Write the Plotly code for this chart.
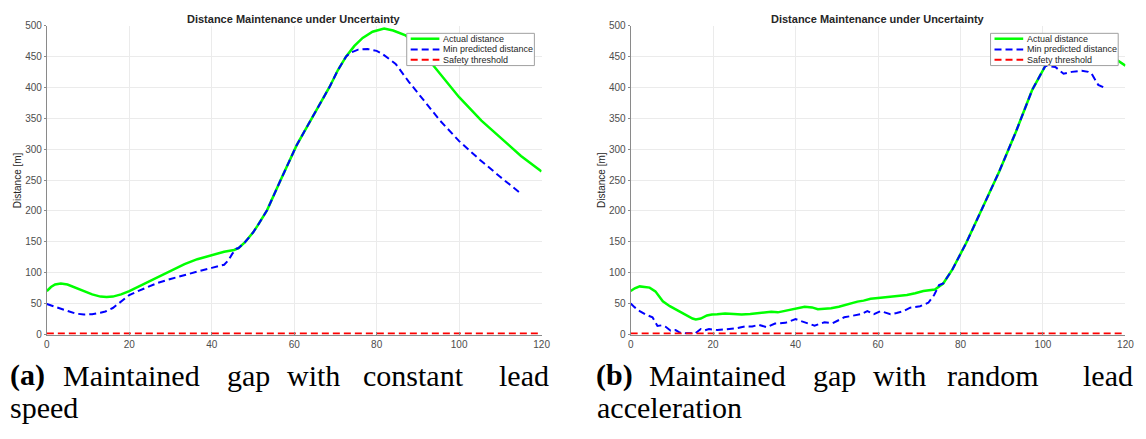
import plotly.graph_objects as go

W, H = 1146, 439

# ---- (a) constant lead speed ----
t_a_actual = [0, 1, 2, 3.4, 5, 7, 9, 11, 13, 14.5, 16, 18, 20, 22, 24, 26.9, 30, 33.4, 36.5, 40,
              43, 45.4, 46.5, 48, 50, 51, 53.4, 56.6, 60.6, 64.6, 68.6, 70.6, 72.6, 74.6, 76.6, 79, 81.8,
              84, 87, 90, 93.8, 97, 100, 105.4, 110, 115, 120]
d_a_actual = [70.5, 77, 81, 82.5, 81, 76, 70, 65, 61.5, 60.8, 61.5, 65, 70.5, 77, 84.5, 94, 104, 114, 122, 129,
              134, 137, 140, 149, 165, 175, 201, 248.5, 306.5, 354, 401, 428, 450, 467, 480, 490, 495,
              492, 484, 466, 435, 408, 384, 346, 318, 289, 264]

t_a_min = [0, 2, 3.5, 5.3, 7, 9, 11, 13, 14.2, 16, 18, 20, 22, 24, 27, 30, 34.2, 37, 40, 43, 44, 45, 46,
           46.5, 48, 50, 51, 53.4, 56.6, 60.6, 64.6, 68.6, 70.6, 72.6, 73.6, 75.5, 77.8, 80, 81.4, 84.6,
           87.8, 91, 95.4, 100, 105, 110, 115]
d_a_min = [49.5, 45, 41, 38, 34, 32.6, 33, 35.5, 37.5, 43, 53, 64, 70, 76, 84, 90, 98.4, 103, 108, 113, 120, 131, 139,
           140, 149, 165, 175, 201, 248.5, 306.5, 354, 401, 428, 450, 456, 461, 462, 459, 454, 438,
           409, 382, 346, 313, 283, 255, 228]

# ---- (b) random lead acceleration ----
t_b_actual = [0, 1, 2.2, 4.6, 6, 7.8, 9.5, 11, 13, 15, 15.8, 17, 18.5, 19.7, 21, 22.9, 25, 26.9, 29, 30.9,
              32.5, 34.1, 35.7, 37.5, 38.9, 40.5, 42.2, 44, 45.4, 47, 48.6, 50.5, 52.6, 55, 56.5, 58.2,
              60.6, 62.5, 64.5, 67, 69, 71, 73.8, 75.8, 78, 81.4, 85.4, 89.4, 93.4, 97.4, 100.6,
              103, 106, 110, 114, 118.2, 120]
d_b_actual = [70.5, 75, 78, 76, 70, 54, 46, 40.5, 33, 26, 24.6, 26, 31, 32.6, 33, 34, 33.5, 32.6, 33.5, 35,
              36.5, 37, 36, 38.5, 40.5, 42, 45, 44, 41, 42, 42.6, 45, 49, 53.4, 55, 58,
              59.5, 61, 62, 64, 67, 70.5, 73, 82.6, 105, 148.5, 206, 264, 327.5, 396, 435,
              450, 457, 456, 450, 443, 435]

t_b_min = [0, 1, 2.2, 3.5, 5.3, 6.5, 7.5, 8.5, 9.7, 10.9, 12, 13.3, 15.7, 17, 18, 19, 21, 23, 25.5, 27.9,
           29.5, 31, 33, 35, 37.5, 40, 42.2, 44.6, 47, 49, 51.8, 54.2, 55.8, 57.4, 59, 60.6, 63,
           64.5, 66.2, 67.8, 70.2, 72.2, 73.6, 74.8, 75.8, 78, 81.4, 85.4, 89.4, 93.4, 97.4, 100.6,
           103, 105, 107, 109.4, 111, 111.8, 112.6, 113.4, 114.7]
d_b_min = [50.5, 44, 38, 33, 28, 14, 15, 12.6, 6.3, 7.4, 3, 2.1, 2, 9, 7, 9, 7.4, 9, 10, 13.4,
           13, 16, 12, 18, 19, 25, 20, 14.5, 20, 18.4, 28, 30.5, 33, 38, 33, 38, 33,
           35, 38, 43.6, 46, 51.5, 64, 80, 82.6, 105, 148.5, 206, 264, 327.5, 396, 435,
           433, 422, 425, 427, 425, 422, 412, 404, 400]

# ---- shared ----
safety_t = [0, 120]
safety_d = [2, 2]

x_ticks = [0, 20, 40, 60, 80, 100, 120]
y_ticks = [0, 50, 100, 150, 200, 250, 300, 350, 400, 450, 500]
series_names = ["Actual distance", "Min predicted distance", "Safety threshold"]
series_colors = ["#00ff00", "#0000ff", "#ff0000"]
plot_title = "Distance Maintenance under Uncertainty"
y_label = "Distance [m]"

TICK_FONT = dict(family="Liberation Sans, Arial, sans-serif", size=10, color="#4d4d4d")
DASH = "7px,4px"


def px(x):
    return x / W


def py(y):
    return 1 - y / H


fig = go.Figure()

panels = [
    ("x", "y", t_a_actual, d_a_actual, t_a_min, d_a_min),
    ("x2", "y2", t_b_actual, d_b_actual, t_b_min, d_b_min),
]
for xa, ya, ta, da, tm, dm in panels:
    fig.add_trace(go.Scatter(x=ta, y=da, mode="lines", name=series_names[0], xaxis=xa, yaxis=ya,
                             line=dict(color=series_colors[0], width=2.5), showlegend=False))
    fig.add_trace(go.Scatter(x=tm, y=dm, mode="lines", name=series_names[1], xaxis=xa, yaxis=ya,
                             line=dict(color=series_colors[1], width=2, dash=DASH), showlegend=False))
    fig.add_trace(go.Scatter(x=safety_t, y=safety_d, mode="lines", name=series_names[2], xaxis=xa, yaxis=ya,
                             line=dict(color=series_colors[2], width=2, dash=DASH), showlegend=False))

# plot area pixel boxes (left, right)
areas = [(44.3, 544.3), (634.3, 1134.3)]
top_px, bot_px = 21, 337.3

axis_common = dict(showgrid=True, gridcolor="#ebebeb", gridwidth=1, zeroline=False,
                   showline=True, linecolor="#8a8a8a", linewidth=1, tickfont=TICK_FONT,
                   tickcolor="#8a8a8a")

layout_axes = {}
for i, (l, r) in enumerate(areas):
    sx = "" if i == 0 else "2"
    layout_axes["xaxis" + sx] = dict(axis_common, domain=[px(l), px(r)], range=[0, 120],
                                     tickvals=x_ticks, ticks="inside", ticklen=3,
                                     anchor="y" + sx)
    layout_axes["yaxis" + sx] = dict(axis_common, domain=[py(bot_px), py(top_px)], range=[0, 500],
                                     tickvals=y_ticks, ticks="outside", ticklen=2,
                                     anchor="x" + sx)

annotations = []
shapes = []

for i, (l, r) in enumerate(areas):
    cx = (l + r) / 2
    # panel title
    annotations.append(dict(text="<b>" + plot_title + "</b>", x=px(cx), y=py(14), xref="paper", yref="paper",
                            xanchor="center", yanchor="middle", showarrow=False,
                            font=dict(family="Liberation Sans, Arial, sans-serif", size=11, color="#262626")))
    # y label
    annotations.append(dict(text=y_label, x=px(l - 30), y=py((top_px + bot_px) / 2), xref="paper", yref="paper",
                            xanchor="center", yanchor="middle", showarrow=False, textangle=-90,
                            font=dict(family="Liberation Sans, Arial, sans-serif", size=10, color="#262626")))

    # legend box
    lx0 = 408 if i == 0 else 998
    lx1 = lx0 + 129
    shapes.append(dict(type="rect", xref="paper", yref="paper", x0=px(lx0), x1=px(lx1), y0=py(62), y1=py(29),
                       fillcolor="white", line=dict(color="#a0a0a0", width=1), layer="above"))
    rows = [34.5, 45.5, 56]
    for k in range(3):
        shapes.append(dict(type="line", xref="paper", yref="paper", x0=px(lx0 + 4), x1=px(lx0 + 33),
                           y0=py(rows[k]), y1=py(rows[k]), layer="above",
                           line=dict(color=series_colors[k], width=2.5 if k == 0 else 2,
                                     dash="solid" if k == 0 else DASH)))
        annotations.append(dict(text=series_names[k], x=px(lx0 + 35), y=py(rows[k]), xref="paper", yref="paper",
                                xanchor="left", yanchor="middle", showarrow=False,
                                font=dict(family="Liberation Sans, Arial, sans-serif", size=9, color="#262626")))

# sub-captions, justified word by word
CAP_FONT = dict(family="Liberation Serif, Times New Roman, serif", size=30, color="black")
captions = [
    [("<b>(a)</b>", 5, "left"), ("Maintained", 130, "center"), ("gap", 248, "center"), ("with", 314, "center"),
     ("constant", 415, "center"), ("lead", 554, "right")],
    [("<b>(b)</b>", 597, "left"), ("Maintained", 722, "center"), ("gap", 840, "center"), ("with", 906, "center"),
     ("random", 1000, "center"), ("lead", 1144, "right")],
]
second_lines = [("speed", 5), ("acceleration", 598)]
for words in captions:
    for text, xpos, anchor in words:
        annotations.append(dict(text=text, x=px(xpos), y=py(379), xref="paper", yref="paper",
                                xanchor=anchor, yanchor="middle", showarrow=False, font=CAP_FONT))
for text, xpos in second_lines:
    annotations.append(dict(text=text, x=px(xpos), y=py(412), xref="paper", yref="paper",
                            xanchor="left", yanchor="middle", showarrow=False, font=CAP_FONT))

fig.update_layout(
    width=W, height=H,
    margin=dict(l=0, r=0, t=0, b=0),
    paper_bgcolor="white", plot_bgcolor="white",
    showlegend=False,
    annotations=annotations,
    shapes=shapes,
    **layout_axes,
)

fig.write_html("out.html")
